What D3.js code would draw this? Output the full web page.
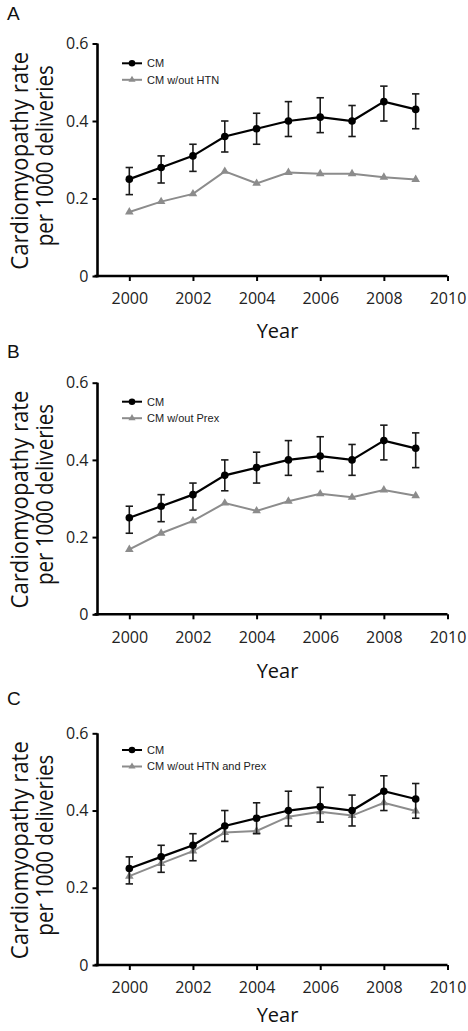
<!DOCTYPE html>
<html>
<head>
<meta charset="utf-8">
<script src="https://cdn.jsdelivr.net/npm/d3@7"></script>
<style>
  html, body { margin: 0; padding: 0; background: #fff; }
  svg { display: block; }
</style>
</head>
<body>
<svg id="chart" width="468" height="1031"></svg>
<script>
// ---- data ----
const years = [2000, 2001, 2002, 2003, 2004, 2005, 2006, 2007, 2008, 2009];
const cmRate = [0.25, 0.28, 0.31, 0.36, 0.38, 0.40, 0.41, 0.40, 0.45, 0.43];
const cmLow  = [0.21, 0.24, 0.27, 0.32, 0.34, 0.36, 0.37, 0.36, 0.40, 0.38];
const cmHigh = [0.28, 0.31, 0.34, 0.40, 0.42, 0.45, 0.46, 0.44, 0.49, 0.47];
const cmNoHtn  = [0.165, 0.192, 0.212, 0.270, 0.239, 0.267, 0.264, 0.264, 0.255, 0.249];
const cmNoPrex = [0.168, 0.210, 0.242, 0.288, 0.268, 0.293, 0.312, 0.303, 0.322, 0.307];
const cmNoBoth = [0.230, 0.263, 0.295, 0.343, 0.347, 0.384, 0.397, 0.387, 0.420, 0.399];
const panelLetters = ["A", "B", "C"];
const compareLabels = ["CM w/out HTN", "CM w/out Prex", "CM w/out HTN and Prex"];
const compareSeries = [cmNoHtn, cmNoPrex, cmNoBoth];
const xTicks = [2000, 2002, 2004, 2006, 2008, 2010];
const yTicks = [0, 0.2, 0.4, 0.6];
const yTickLabels = ["0", "0.2", "0.4", "0.6"];
const xTitle = "Year";
const yTitle = ["Cardiomyopathy rate", "per 1000 deliveries"];
const mainLabel = "CM";

// ---- layout (pixels) ----
const layouts = [
  { top: 43.5, bottom: 276,   letterY: 20,  yearY: 338, legY: 63.3 },
  { top: 382.7, bottom: 614.3, letterY: 358, yearY: 678, legY: 401.7 },
  { top: 733.3, bottom: 965,   letterY: 705, yearY: 1022, legY: 750 }
];
const xLeft = 97.5, xRight = 447.5;
const FONT = "'Open Sans', 'Noto Sans', sans-serif";
const GRAY = "#8c8c8c";
const titleLens = [218, 181];

const svg = d3.select("#chart");
const x = d3.scaleLinear().domain([1999, 2010]).range([xLeft, xRight]);
const yi = d3.range(years.length);

layouts.forEach((L, p) => {
  const g = svg.append("g");
  const y = d3.scaleLinear().domain([0, 0.6]).range([L.bottom, L.top]);

  // panel letter
  g.append("text").attr("x", 7).attr("y", L.letterY)
    .attr("font-family", "'Liberation Sans', Arial, sans-serif").attr("font-size", 19).attr("fill", "#111")
    .text(panelLetters[p]);

  // y title
  const cy = (L.top + L.bottom) / 2 + 1;
  [27.5, 53].forEach((bx, i) => {
    g.append("text")
      .attr("transform", `translate(${bx},${cy - (i ? 5 : 0)}) rotate(-90)`)
      .attr("text-anchor", "middle")
      .attr("font-family", FONT).attr("font-size", 23).attr("fill", "#111")
      .attr("textLength", titleLens[i]).attr("lengthAdjust", "spacingAndGlyphs")
      .text(yTitle[i]);
  });

  // x title
  g.append("text").attr("x", (x(1999) + x(2010)) / 2 + 5).attr("y", L.yearY)
    .attr("text-anchor", "middle")
    .attr("font-family", FONT).attr("font-size", 20).attr("fill", "#111")
    .text(xTitle);

  // axes
  const yAxis = d3.axisLeft(y).tickValues(yTicks)
    .tickFormat((d, i) => yTickLabels[i]).tickSize(5).tickSizeOuter(0).tickPadding(4);
  const ya = g.append("g").attr("transform", `translate(${xLeft},0)`).call(yAxis);
  const xAxis = d3.axisBottom(x).tickValues(xTicks).tickFormat(d3.format("d"))
    .tickSize(5).tickSizeOuter(0).tickPadding(12);
  const xa = g.append("g").attr("transform", `translate(0,${L.bottom})`).call(xAxis);
  [ya, xa].forEach(a => {
    a.select(".domain").attr("stroke", "#000").attr("stroke-width", 2.6);
    a.selectAll(".tick line").attr("stroke", "#000").attr("stroke-width", 2);
    a.selectAll(".tick text").attr("font-family", FONT).attr("font-size", 16).attr("fill", "#222");
  });
  // extend axis lines to meet at the corner
  xa.select(".domain").attr("d", `M${xLeft - 3},0H${xRight}`);
  ya.select(".domain").attr("d", `M0,${L.top}V${L.bottom + 1.3}`);

  // comparison series (gray)
  const comp = compareSeries[p];
  const line = d3.line().x(i => x(years[i]));
  g.append("path").datum(yi)
    .attr("d", line.y(i => y(comp[i])))
    .attr("fill", "none").attr("stroke", GRAY).attr("stroke-width", 2);
  const tri = d3.symbol().type(d3.symbolTriangle).size(32);
  g.selectAll(".tri").data(yi).join("path")
    .attr("transform", i => `translate(${x(years[i])},${y(comp[i])})`)
    .attr("d", tri).attr("fill", GRAY);

  // CM error bars
  const eb = g.append("g").attr("stroke", "#1a1a1a").attr("stroke-width", 1.6);
  yi.forEach(i => {
    const cx = x(years[i]);
    eb.append("line").attr("x1", cx).attr("x2", cx).attr("y1", y(cmLow[i])).attr("y2", y(cmHigh[i]));
    eb.append("line").attr("x1", cx - 3.7).attr("x2", cx + 3.7).attr("y1", y(cmLow[i])).attr("y2", y(cmLow[i]));
    eb.append("line").attr("x1", cx - 3.7).attr("x2", cx + 3.7).attr("y1", y(cmHigh[i])).attr("y2", y(cmHigh[i]));
  });
  g.append("path").datum(yi)
    .attr("d", d3.line().x(i => x(years[i])).y(i => y(cmRate[i])))
    .attr("fill", "none").attr("stroke", "#000").attr("stroke-width", 2.2);
  g.selectAll(".dot").data(yi).join("circle")
    .attr("cx", i => x(years[i])).attr("cy", i => y(cmRate[i])).attr("r", 3.8).attr("fill", "#000");

  // legend
  const lg = g.append("g");
  const rows = [
    { label: mainLabel, color: "#000", sym: "circle" },
    { label: compareLabels[p], color: GRAY, sym: "tri" }
  ];
  rows.forEach((r, k) => {
    const ry = L.legY + k * 16.5;
    lg.append("line").attr("x1", 122).attr("x2", 142).attr("y1", ry).attr("y2", ry)
      .attr("stroke", r.color).attr("stroke-width", 2);
    if (r.sym === "circle") {
      lg.append("circle").attr("cx", 132).attr("cy", ry).attr("r", 3.3).attr("fill", r.color);
    } else {
      lg.append("path").attr("transform", `translate(132,${ry})`)
        .attr("d", d3.symbol().type(d3.symbolTriangle).size(22)).attr("fill", r.color);
    }
    lg.append("text").attr("x", 147).attr("y", ry).attr("dy", "0.35em")
      .attr("font-family", "'Liberation Sans', Arial, sans-serif").attr("font-size", 11)
      .attr("fill", "#222").text(r.label);
  });
});
</script>
</body>
</html>
